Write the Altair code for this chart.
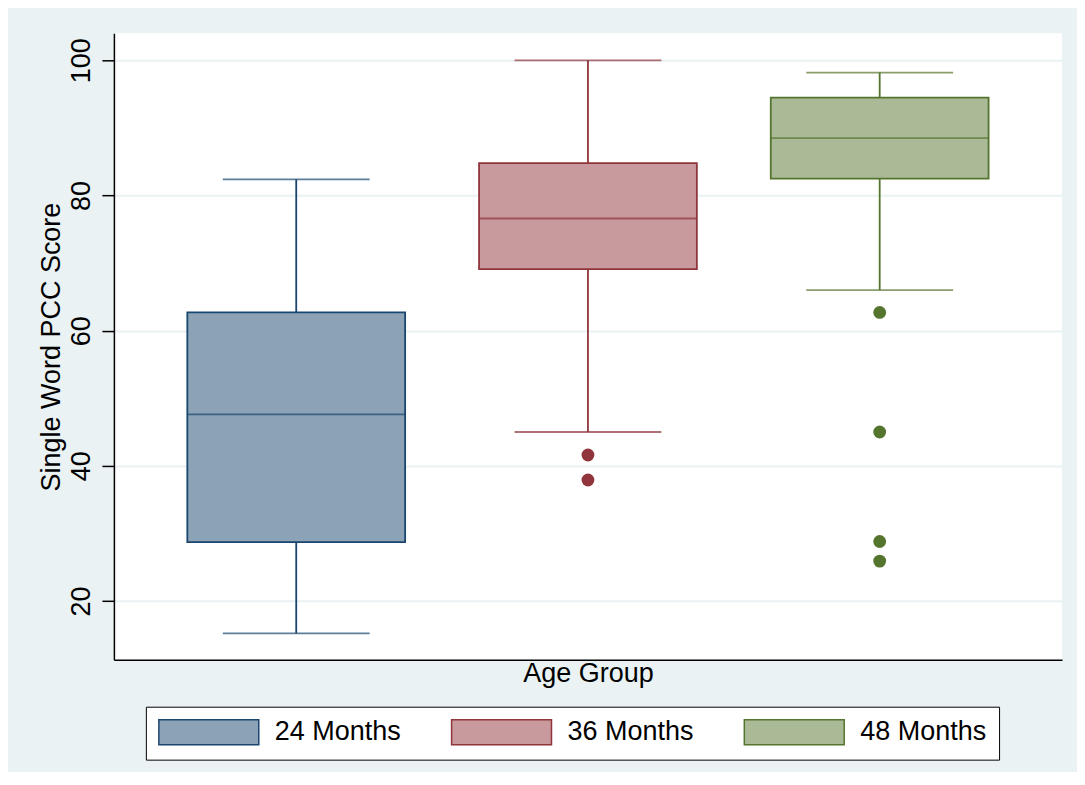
import altair as alt
import pandas as pd

groups = ["24 Months", "36 Months", "48 Months"]
whisker_low = [15.2, 45.0, 66.0]
q1 = [28.7, 69.1, 82.5]
median = [47.6, 76.6, 88.5]
q3 = [62.7, 84.8, 94.5]
whisker_high = [82.4, 100.0, 98.2]

outlier_group = ["36 Months", "36 Months", "48 Months", "48 Months", "48 Months", "48 Months"]
outlier_value = [41.6, 37.9, 62.7, 45.0, 28.8, 25.9]

fill_colors = ["#8CA3B7", "#C89A9D", "#AABA97"]
line_colors = ["#1A476F", "#90353B", "#55752F"]

FONT = "Liberation Sans"
FS = 27
LW = 1.8

stats = pd.DataFrame({
    "group": groups, "g": groups, "lo": whisker_low, "q1": q1, "med": median,
    "q3": q3, "hi": whisker_high,
})
outl = pd.DataFrame({"group": outlier_group, "g": outlier_group, "value": outlier_value})

x_scale = alt.Scale(domain=groups, paddingInner=0, paddingOuter=0.125)
x_enc = alt.X("group:N", scale=x_scale,
              axis=alt.Axis(title="Age Group", labels=False, ticks=False, grid=False,
                            domainColor="black", domainWidth=1.5, titleFont=FONT,
                            titleFontSize=FS, titleFontWeight="normal", titleColor="black",
                            titlePadding=1))
y_scale = alt.Scale(domain=[11.3, 104], nice=False, zero=False)
y_axis = alt.Axis(title="Single Word PCC Score", values=[20, 40, 60, 80, 100],
                  labelAngle=-90, labelAlign="center", labelBaseline="bottom",
                  labelFont=FONT, labelFontSize=FS, labelColor="black", labelPadding=6,
                  tickSize=12, tickColor="black", tickWidth=1.5,
                  domainColor="black", domainWidth=1.5,
                  grid=True, gridColor="#EAF2F3", gridWidth=2,
                  titleFont=FONT, titleFontSize=FS, titleFontWeight="normal",
                  titleColor="black", titlePadding=2)

# line colour scale (data-driven domain, sorted = same order as groups)
color_enc = alt.Color("g:N", scale=alt.Scale(range=line_colors), legend=None)

base = alt.Chart(stats).encode(x=x_enc)

whisk_top = base.mark_rule(strokeWidth=LW).encode(
    y=alt.Y("q3:Q", scale=y_scale, axis=y_axis), y2="hi:Q", color=color_enc)
whisk_bot = base.mark_rule(strokeWidth=LW).encode(
    y=alt.Y("lo:Q", scale=y_scale), y2="q1:Q", color=color_enc)
cap_hi = base.mark_tick(size=147, thickness=LW).encode(
    y=alt.Y("hi:Q", scale=y_scale), color=color_enc)
cap_lo = base.mark_tick(size=147, thickness=LW).encode(
    y=alt.Y("lo:Q", scale=y_scale), color=color_enc)
box = base.mark_bar(size=218, strokeWidth=LW).encode(
    y=alt.Y("q1:Q", scale=y_scale), y2="q3:Q",
    fill=alt.Fill("group:N", scale=alt.Scale(domain=groups, range=fill_colors),
                  legend=alt.Legend(title=None, orient="none", legendX=32, legendY=674,
                                    direction="horizontal", columns=3,
                                    symbolType="M-1,-1L7,-1L7,1L-1,1Z",
                                    symbolSize=625, symbolStrokeWidth=1.5,
                                    labelFont=FONT, labelFontSize=FS, labelColor="black",
                                    labelOffset=90, columnPadding=47, padding=12,
                                    strokeColor="black", fillColor="white")),
    stroke=alt.Stroke("group:N", scale=alt.Scale(domain=groups, range=line_colors)))
med = base.mark_tick(size=218, thickness=LW).encode(
    y=alt.Y("med:Q", scale=y_scale), color=color_enc)
pts = alt.Chart(outl).mark_circle(size=165, opacity=1).encode(
    x=alt.X("group:N", scale=x_scale),
    y=alt.Y("value:Q", scale=y_scale), color=color_enc)

chart = alt.layer(whisk_top, whisk_bot, cap_hi, cap_lo, box, med, pts).properties(
    width=949, height=627,
    autosize=alt.AutoSizeParams(type="none"),
    padding={"left": 106, "top": 25, "right": 15, "bottom": 112},
    background="#EAF2F3",
).configure_view(fill="white", stroke=None)

chart.save("out.html", embed_options={"renderer": "svg", "actions": False})
